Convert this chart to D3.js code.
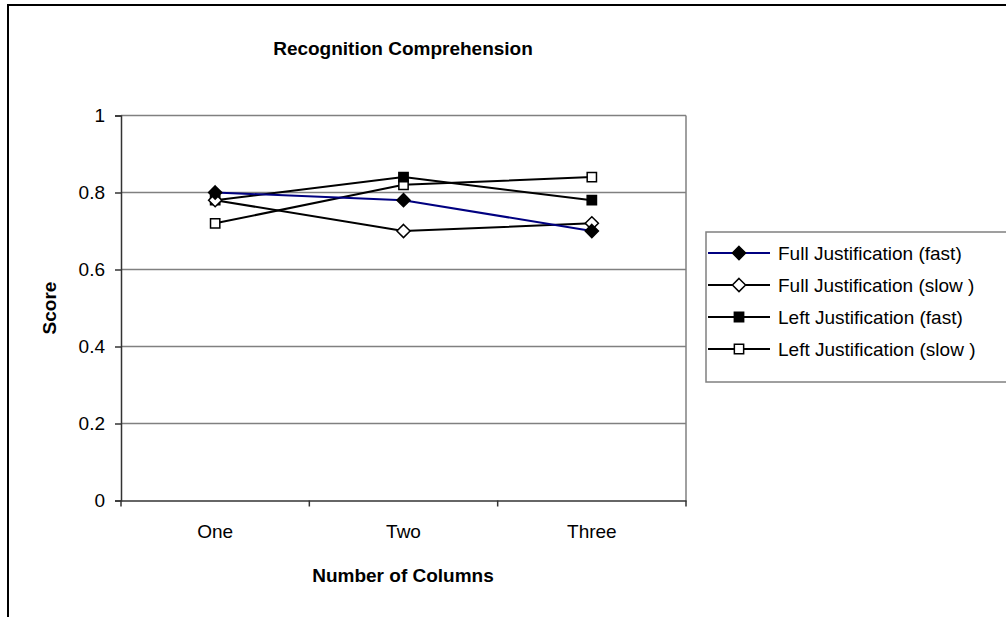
<!DOCTYPE html>
<html>
<head>
<meta charset="utf-8">
<script src="https://cdn.jsdelivr.net/npm/d3@7"></script>
<style>
  body { margin: 0; background: #fff; }
  svg { display: block; font-family: "Liberation Sans", Arial, sans-serif; }
</style>
</head>
<body>
<svg id="chart" width="1006" height="617"></svg>
<script>
const categories = ['One', 'Two', 'Three'];
const seriesNames = [
  'Full Justification (fast)',
  'Full Justification (slow )',
  'Left Justification (fast)',
  'Left Justification (slow )'
];
const fullFast = [0.80, 0.78, 0.70];
const fullSlow = [0.78, 0.70, 0.72];
const leftFast = [0.78, 0.84, 0.78];
const leftSlow = [0.72, 0.82, 0.84];
const yTicks = [0, 0.2, 0.4, 0.6, 0.8, 1];

const seriesValues = [fullFast, fullSlow, leftFast, leftSlow];
const lineColors = ['#000080', '#000', '#000', '#000'];
const markerShape = ['diamond', 'diamond', 'square', 'square'];
const markerFill = ['#000', '#fff', '#000', '#fff'];

const plotLeft = 121, plotRight = 686, plotTop = 115.5, plotBottom = 500.5;
const labelSize = 19;

const svg = d3.select('#chart');

// outer chart frame (runs off the page on the right and bottom)
svg.append('rect')
  .attr('x', 8).attr('y', 5)
  .attr('width', 1100).attr('height', 700)
  .attr('fill', 'none').attr('stroke', '#000').attr('stroke-width', 2);

const xscale = d3.scaleBand()
  .domain(categories)
  .range([plotLeft, plotRight])
  .padding(0);

const yscale = d3.scaleLinear()
  .domain([0, 1])
  .range([plotBottom, plotTop]);

// gridlines
svg.append('g')
  .selectAll('line')
  .data(yTicks.filter(d => d > 0))
  .enter()
  .append('line')
  .attr('x1', plotLeft).attr('x2', plotRight)
  .attr('y1', d => yscale(d)).attr('y2', d => yscale(d))
  .attr('stroke', '#808080').attr('stroke-width', 1.5);

// right border of plot area
svg.append('line')
  .attr('x1', plotRight).attr('x2', plotRight)
  .attr('y1', plotTop).attr('y2', plotBottom)
  .attr('stroke', '#808080').attr('stroke-width', 1.5);

// y axis
const leftAxis = d3.axisLeft(yscale)
  .tickValues(yTicks)
  .tickFormat(d3.format(''))
  .tickSizeOuter(0)
  .tickSize(6)
  .tickPadding(10);
const gy = svg.append('g')
  .attr('transform', `translate(${plotLeft}, 0)`)
  .call(leftAxis);
gy.select('.domain').attr('stroke', '#333').attr('stroke-width', 1.5);
gy.selectAll('.tick line').attr('stroke', '#333').attr('stroke-width', 1.5);
gy.selectAll('.tick text')
  .attr('font-size', labelSize)
  .attr('font-family', '"Liberation Sans", Arial, sans-serif')
  .attr('fill', '#000');

// x axis: labels centred in bands, ticks on band edges
const bottomAxis = d3.axisBottom(xscale)
  .tickSize(0)
  .tickSizeOuter(0)
  .tickPadding(24);
const gx = svg.append('g')
  .attr('transform', `translate(0, ${plotBottom})`)
  .call(bottomAxis);
gx.select('.domain').attr('stroke', '#333').attr('stroke-width', 1.5);
gx.selectAll('.tick text')
  .attr('font-size', labelSize)
  .attr('font-family', '"Liberation Sans", Arial, sans-serif')
  .attr('fill', '#000');

svg.append('g')
  .selectAll('line')
  .data(categories.concat(['end']))
  .enter()
  .append('line')
  .attr('x1', (d, i) => plotLeft + i * xscale.step())
  .attr('x2', (d, i) => plotLeft + i * xscale.step())
  .attr('y1', plotBottom).attr('y2', plotBottom + 6)
  .attr('stroke', '#333').attr('stroke-width', 1.5);

const xc = c => xscale(c) + xscale.bandwidth() / 2;

const line = d3.line()
  .x((d, i) => xc(categories[i]))
  .y(d => yscale(d));

const markerPath = (shape) => shape === 'diamond'
  ? d3.symbol().type(d3.symbolDiamond2).size(110)()
  : d3.symbol().type(d3.symbolSquare2).size(110)();

// draw in reverse so the blue line sits on top
const order = [3, 2, 1, 0];
order.forEach(s => {
  svg.append('path')
    .datum(seriesValues[s])
    .attr('d', line)
    .attr('fill', 'none')
    .attr('stroke', lineColors[s])
    .attr('stroke-width', 2);
});
order.forEach(s => {
  svg.append('g')
    .selectAll('path')
    .data(seriesValues[s])
    .enter()
    .append('path')
    .attr('d', markerPath(markerShape[s]))
    .attr('transform', (d, i) => `translate(${xc(categories[i])}, ${yscale(d)})`)
    .attr('fill', markerFill[s])
    .attr('stroke', '#000')
    .attr('stroke-width', 1.5);
});

// titles
svg.append('text')
  .text('Recognition Comprehension')
  .attr('x', 403).attr('y', 55)
  .attr('text-anchor', 'middle')
  .attr('font-size', 19).attr('font-weight', 'bold');

svg.append('text')
  .text('Number of Columns')
  .attr('x', 403).attr('y', 582)
  .attr('text-anchor', 'middle')
  .attr('font-size', labelSize).attr('font-weight', 'bold');

svg.append('text')
  .text('Score')
  .attr('transform', 'translate(56, 308) rotate(-90)')
  .attr('text-anchor', 'middle')
  .attr('font-size', labelSize).attr('font-weight', 'bold');

// legend
const legend = svg.append('g').attr('transform', 'translate(706, 232)');
legend.append('rect')
  .attr('x', 0).attr('y', 0)
  .attr('width', 320).attr('height', 150)
  .attr('fill', '#fff').attr('stroke', '#808080').attr('stroke-width', 1.5);

const rows = legend.selectAll('g.row')
  .data(seriesNames)
  .enter()
  .append('g')
  .attr('class', 'row')
  .attr('transform', (d, i) => `translate(0, ${21 + i * 32})`);
rows.append('line')
  .attr('x1', 2).attr('x2', 64)
  .attr('y1', 0).attr('y2', 0)
  .attr('stroke', (d, i) => lineColors[i])
  .attr('stroke-width', 2);
rows.append('path')
  .attr('d', (d, i) => markerPath(markerShape[i]))
  .attr('transform', 'translate(33, 0)')
  .attr('fill', (d, i) => markerFill[i])
  .attr('stroke', '#000')
  .attr('stroke-width', 1.5);
rows.append('text')
  .text(d => d)
  .attr('x', 72).attr('y', 7)
  .attr('font-size', labelSize)
  .attr('fill', '#000');
</script>
</body>
</html>
